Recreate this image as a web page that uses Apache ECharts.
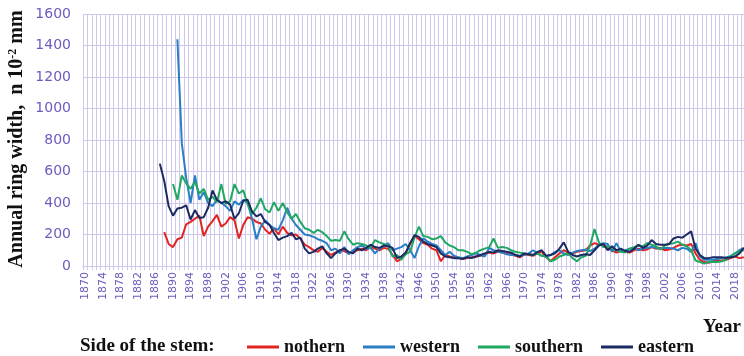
<!DOCTYPE html>
<html>
<head>
<meta charset="utf-8">
<script src="https://cdn.jsdelivr.net/npm/echarts@6/dist/echarts.min.js"></script>
<style>
  html, body { margin: 0; padding: 0; background: #fff; }
  #chart { width: 744px; height: 356px; }
</style>
</head>
<body>
<div id="chart"></div>
<script>
// x categories: 1870..2020, a label every 4 years
const firstYear = 1870;
const lastYear = 2020;
const years = [];
for (let y = firstYear; y <= lastYear; y++) years.push(String(y));

const yTicks = [0, 200, 400, 600, 800, 1000, 1200, 1400, 1600];

// ring widths, n 10^-2 mm, one value per year from the start year
const northernStart = 1888;
const northern = [
  215, 140,
  120, 170, 180, 265, 280, 300, 320, 190, 250, 285,
  325, 250, 270, 310, 290, 175, 260, 310, 300, 280,
  270, 230, 205, 240, 200, 250, 210, 195, 200, 175,
  135, 120, 100, 90, 115, 90, 70, 85, 100, 95,
  80, 90, 100, 110, 100, 120, 110, 100, 115, 110,
  70, 30, 45, 80, 140, 190, 170, 145, 135, 110,
  100, 30, 70, 60, 55, 50, 45, 50, 55, 60,
  65, 75, 85, 80, 90, 85, 80, 75, 65, 55,
  75, 70, 65, 80, 90, 55, 30, 55, 80, 100,
  85, 80, 90, 95, 100, 130, 145, 135, 140, 110,
  100, 85, 95, 90, 85, 100, 110, 100, 105, 120,
  110, 115, 100, 105, 115, 130, 135, 130, 140, 80,
  40, 25, 20, 30, 35, 35, 40, 50, 60, 50,
  55
];

const westernStart = 1891;
const western = [
  1440, 780, 560, 400, 575, 420, 470, 400, 380,
  420, 400, 380, 350, 410, 390, 420, 400, 300, 170,
  250, 290, 260, 240, 230, 290, 370, 300, 260, 230,
  200, 195, 185, 170, 160, 145, 100, 110, 80, 120,
  75, 100, 120, 130, 110, 115, 80, 110, 125, 145,
  100, 110, 120, 140, 100, 50, 125, 175, 155, 140,
  130, 100, 70, 90, 65, 55, 50, 60, 70, 80,
  70, 60, 115, 100, 90, 85, 75, 70, 70, 65,
  70, 80, 100, 80, 65, 60, 70, 90, 100, 80,
  70, 85, 95, 100, 105, 95, 110, 135, 145, 140,
  90, 145, 90, 100, 110, 115, 100, 110, 115, 120,
  115, 110, 115, 115, 110, 100, 115, 110, 90, 145,
  60, 40, 40, 40, 45, 50, 55, 60, 80, 100,
  115
];

const southernStart = 1890;
const southern = [
  520, 420, 575, 525, 490, 535, 460, 490, 420, 440,
  405, 520, 395, 410, 520, 460, 480, 390, 330, 370,
  430, 360, 340, 405, 350, 400, 340, 300, 330, 280,
  240, 230, 210, 230, 215, 190, 160, 165, 160, 220,
  170, 135, 145, 140, 130, 115, 165, 150, 140, 130,
  60, 70, 40, 75, 90, 180, 250, 190, 185, 170,
  175, 190, 150, 130, 120, 100, 100, 90, 75, 85,
  100, 110, 120, 175, 115, 120, 115, 100, 90, 85,
  80, 75, 70, 80, 65, 60, 30, 40, 60, 70,
  80, 50, 30, 55, 65, 130, 235, 150, 120, 125,
  115, 100, 90, 85, 110, 120, 130, 125, 145, 135,
  125, 105, 130, 140, 145, 155, 135, 125, 100, 35,
  25, 15, 25, 25, 25, 30, 40, 65, 80, 95,
  100
];

const easternStart = 1887;
const eastern = [
  650, 540, 380,
  320, 365, 370, 385, 295, 355, 305, 310, 370, 480,
  420, 400, 410, 390, 300, 335, 415, 420, 345, 315,
  330, 280, 260, 210, 165, 180, 190, 210, 170, 180,
  110, 80, 90, 110, 125, 80, 50, 80, 100, 110,
  90, 80, 110, 100, 115, 135, 120, 115, 130, 125,
  115, 50, 60, 85, 145, 195, 185, 155, 140, 130,
  120, 80, 60, 55, 50, 50, 45, 55, 50, 60,
  70, 80, 90, 85, 100, 95, 90, 85, 70, 60,
  80, 75, 70, 90, 100, 65, 70, 80, 110, 150,
  90, 70, 60, 70, 75, 70, 100, 130, 140, 100,
  125, 100, 110, 95, 90, 110, 135, 115, 130, 165,
  140, 135, 135, 140, 175, 185, 180, 200, 220, 110,
  70, 50, 50, 55, 55, 55, 50, 55, 60, 80,
  115
];

// pad a series with nulls so it lines up with the year axis
function onAxis(start, values) {
  const out = new Array(start - firstYear).fill(null).concat(values);
  return out.slice(0, years.length);
}

const gridColor = '#cec8ec';
const tickColor = '#6f5abd';
const serif = '"Liberation Serif", "DejaVu Serif", serif';

const chart = echarts.init(document.getElementById('chart'), null, { renderer: 'canvas' });

const lineSeries = (name, start, values, color) => ({
  name,
  type: 'line',
  data: onAxis(start, values),
  symbol: 'none',
  smooth: false,
  connectNulls: false,
  lineStyle: { color, width: 2 },
  itemStyle: { color }
});

chart.setOption({
  animation: false,
  backgroundColor: '#fff',
  grid: {
    left: 83,
    top: 14,
    width: 663,
    bottom: 90,
    containLabel: false,
    outerBoundsMode: 'none'
  },
  xAxis: {
    type: 'category',
    data: years,
    boundaryGap: true,
    axisLine: { lineStyle: { color: gridColor, width: 1 } },
    axisTick: { show: true, interval: 0, length: 4, lineStyle: { color: gridColor } },
    splitLine: { show: true, interval: 0, lineStyle: { color: gridColor, width: 1 } },
    axisLabel: {
      interval: 3,
      rotate: 90,
      margin: 6,
      color: tickColor,
      fontFamily: '"DejaVu Sans", sans-serif',
      fontSize: 11
    }
  },
  yAxis: {
    type: 'value',
    min: yTicks[0],
    max: yTicks[yTicks.length - 1],
    interval: 200,
    axisLine: { show: false },
    axisTick: { show: false },
    splitLine: { lineStyle: { color: gridColor, width: 1 } },
    axisLabel: {
      margin: 12,
      color: tickColor,
      fontFamily: '"DejaVu Sans", sans-serif',
      fontSize: 14,
      formatter: (v) => String(v)
    }
  },
  legend: {
    left: 242,
    top: 333,
    icon: 'rect',
    itemWidth: 32,
    itemHeight: 3,
    itemGap: 18,
    textStyle: {
      fontFamily: serif,
      fontWeight: 'bold',
      fontSize: 18,
      color: '#111'
    },
    data: ['nothern', 'western', 'southern', 'eastern']
  },
  graphic: [
    {
      type: 'text',
      x: 17,
      y: 139,
      rotation: Math.PI / 2,
      style: {
        text: '{a|Annual ring width,  n 10}{s|-2}{a| mm}',
        align: 'center',
        verticalAlign: 'middle',
        rich: {
          a: { fontFamily: serif, fontWeight: 'bold', fontSize: 20, fill: '#111' },
          s: { fontFamily: serif, fontWeight: 'bold', fontSize: 12, fill: '#111', verticalAlign: 'top', padding: [0, 0, 8, 0] }
        }
      }
    },
    {
      type: 'text',
      x: 703,
      y: 327,
      style: {
        text: 'Year',
        fontFamily: serif,
        fontWeight: 'bold',
        fontSize: 19,
        fill: '#111',
        verticalAlign: 'middle'
      }
    },
    {
      type: 'text',
      x: 80,
      y: 346,
      style: {
        text: 'Side of the stem:',
        fontFamily: serif,
        fontWeight: 'bold',
        fontSize: 19,
        fill: '#111',
        verticalAlign: 'middle'
      }
    }
  ],
  series: [
    lineSeries('nothern', northernStart, northern, '#e2231f'),
    lineSeries('western', westernStart, western, '#2a7fc4'),
    lineSeries('southern', southernStart, southern, '#1fa862'),
    lineSeries('eastern', easternStart, eastern, '#1b2a60')
  ]
});

window.addEventListener('resize', () => chart.resize());
</script>
</body>
</html>
